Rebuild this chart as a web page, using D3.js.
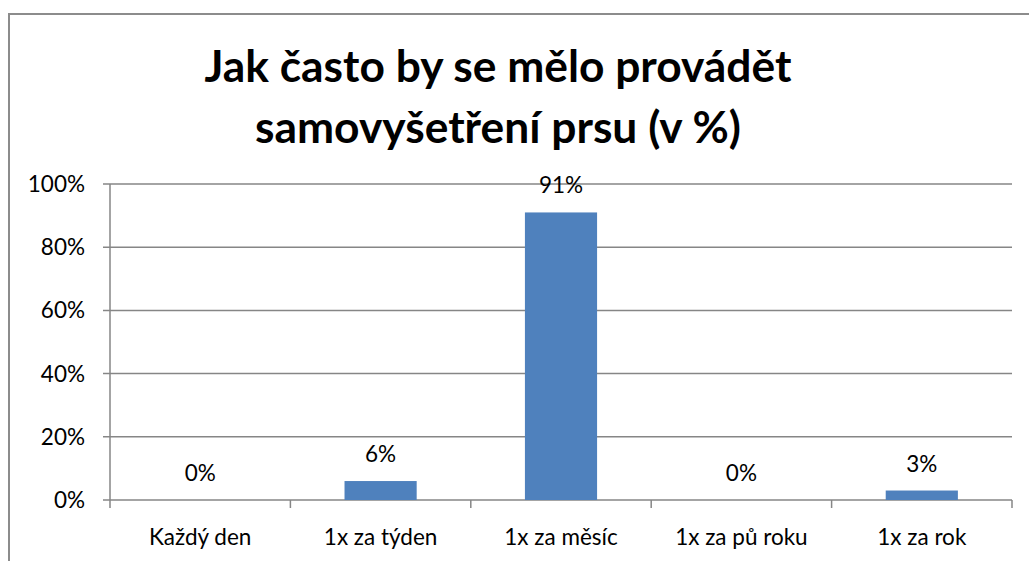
<!DOCTYPE html>
<html>
<head>
<meta charset="utf-8">
<script src="https://cdn.jsdelivr.net/npm/d3@7"></script>
<style>
  body { margin: 0; background: #fff; }
  svg { display: block; }
  text { font-family: Lato, "Open Sans", sans-serif; fill: #000; }
</style>
</head>
<body>
<div id="chart"></div>
<script>
// data
var categories = ["Každý den", "1x za týden", "1x za měsíc", "1x za pů roku", "1x za rok"];
var values = [0, 6, 91, 0, 3];
var yTicks = [0, 20, 40, 60, 80, 100];
var titleLines = ["Jak často by se mělo provádět", "samovyšetření prsu (v %)"];

var width = 1029, height = 561;
var plot = { left: 110, right: 1012, top: 184, bottom: 500 };
var labelSize = "22.5px";

var svg = d3.select("#chart").append("svg")
  .attr("width", width)
  .attr("height", height);

// outer chart border (runs off the right and bottom edges)
svg.append("rect")
  .attr("x", 9).attr("y", 14)
  .attr("width", 1200).attr("height", 1000)
  .attr("fill", "none")
  .attr("stroke", "#8c8c8c")
  .attr("stroke-width", 2);

// title, sized so the first line matches the width in the picture
var titleBase = [82, 143];
var title = svg.append("g");
titleLines.forEach(function(t, i) {
  title.append("text")
    .attr("x", 498)
    .attr("y", titleBase[i])
    .attr("text-anchor", "middle")
    .style("font-weight", "bold")
    .style("font-size", "40px")
    .text(t);
});
var w0 = title.select("text").node().getComputedTextLength();
title.selectAll("text").style("font-size", (40 * 587 / w0) + "px");

var x = d3.scaleBand()
  .domain(categories)
  .range([plot.left, plot.right])
  .paddingInner(0.6)
  .paddingOuter(0.3);

var xOuter = d3.scaleBand()
  .domain(categories)
  .range([plot.left, plot.right]);

var y = d3.scaleLinear()
  .domain([0, 100])
  .range([plot.bottom, plot.top]);

// gridlines
svg.append("g")
  .selectAll("line")
  .data(yTicks)
  .join("line")
  .attr("x1", plot.left - 7)
  .attr("x2", plot.right)
  .attr("y1", function(d) { return y(d); })
  .attr("y2", function(d) { return y(d); })
  .attr("stroke", "#868686")
  .attr("stroke-width", 1.5);

// y axis line
svg.append("line")
  .attr("x1", plot.left).attr("x2", plot.left)
  .attr("y1", plot.top).attr("y2", plot.bottom)
  .attr("stroke", "#868686")
  .attr("stroke-width", 1.5);

// y labels
svg.append("g")
  .selectAll("text")
  .data(yTicks)
  .join("text")
  .attr("x", 85)
  .attr("y", function(d) { return y(d) + 8; })
  .attr("text-anchor", "end")
  .style("font-size", labelSize)
  .text(function(d) { return d + "%"; });

// x tick marks
var tickPos = categories.map(function(c) { return xOuter(c); }).concat([plot.right]);
svg.append("g")
  .selectAll("line")
  .data(tickPos)
  .join("line")
  .attr("x1", function(d) { return d; })
  .attr("x2", function(d) { return d; })
  .attr("y1", plot.bottom)
  .attr("y2", plot.bottom + 8)
  .attr("stroke", "#868686")
  .attr("stroke-width", 1.5);

// bars
svg.append("g")
  .selectAll("rect")
  .data(values)
  .join("rect")
  .attr("x", function(d, i) { return x(categories[i]); })
  .attr("y", function(d) { return y(d); })
  .attr("width", x.bandwidth())
  .attr("height", function(d) { return plot.bottom - y(d); })
  .attr("fill", "#4f81bd");

// value labels
svg.append("g")
  .selectAll("text")
  .data(values)
  .join("text")
  .attr("x", function(d, i) { return xOuter(categories[i]) + xOuter.bandwidth() / 2; })
  .attr("y", function(d) { return y(d) - 19; })
  .attr("text-anchor", "middle")
  .style("font-size", labelSize)
  .text(function(d) { return d + "%"; });

// category labels
svg.append("g")
  .selectAll("text")
  .data(categories)
  .join("text")
  .attr("x", function(d) { return xOuter(d) + xOuter.bandwidth() / 2; })
  .attr("y", 545)
  .attr("text-anchor", "middle")
  .style("font-size", labelSize)
  .text(function(d) { return d; });
</script>
</body>
</html>
